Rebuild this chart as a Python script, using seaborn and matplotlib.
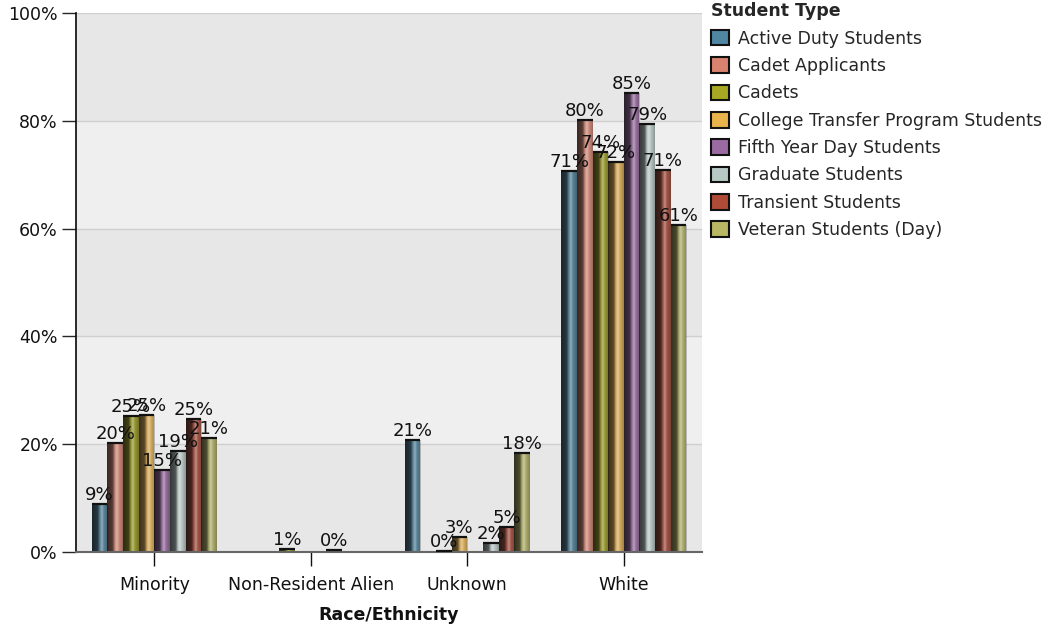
import numpy as np
import pandas as pd
import matplotlib
matplotlib.use("Agg")
import matplotlib.pyplot as plt
import seaborn as sns
from matplotlib.patches import Patch

categories = ["Minority", "Non-Resident Alien", "Unknown", "White"]
student_types = ["Active Duty Students", "Cadet Applicants", "Cadets",
                 "College Transfer Program Students", "Fifth Year Day Students",
                 "Graduate Students", "Transient Students", "Veteran Students (Day)"]

active_duty = [8.9, np.nan, 20.8, 70.7]
cadet_applicants = [20.2, np.nan, np.nan, 80.1]
cadets = [25.2, 0.6, 0.2, 74.2]
college_transfer = [25.4, np.nan, 2.8, 72.4]
fifth_year = [15.2, np.nan, np.nan, 85.2]
graduate = [18.7, 0.4, 1.7, 79.4]
transient = [24.7, np.nan, 4.6, 70.9]
veteran = [21.1, np.nan, 18.4, 60.6]

series = [active_duty, cadet_applicants, cadets, college_transfer,
          fifth_year, graduate, transient, veteran]

colors = ["#4f87a3", "#d9826f", "#a9a823", "#e8b24c",
          "#9b6aa3", "#b7c9c5", "#b04b38", "#b9b763"]

rows = []
for st, vals in zip(student_types, series):
    for cat, v in zip(categories, vals):
        rows.append({"Race/Ethnicity": cat, "Student Type": st, "Percent": v})
df = pd.DataFrame(rows)

sns.set_theme(style="white")
plt.rcParams['font.family'] = ['DejaVu Sans']

fig = plt.figure(figsize=(10.51, 6.27), dpi=100)
ax = fig.add_axes([0.0723, 0.1196, 0.5957, 0.8597])

# background bands
band_cols = ["#e7e7e7", "#efefef"]
for i, lo in enumerate(range(0, 100, 20)):
    ax.axhspan(lo, lo + 20, color=band_cols[i % 2], zorder=0, lw=0)
for y in range(20, 101, 20):
    ax.axhline(y, color="#cfcfcf", lw=1, zorder=0.5)

sns.barplot(data=df, x="Race/Ethnicity", y="Percent", hue="Student Type",
            hue_order=student_types, order=categories, palette=colors,
            errorbar=None, width=0.8, dodge=True, ax=ax, legend=False,
            edgecolor="none", linewidth=0, zorder=2)

# shading overlay to mimic the glossy 3D look
grad_x = np.linspace(0, 1, 64)
alpha = np.interp(grad_x, [0, 0.35, 0.5, 0.65, 0.85, 1.0],
                  [0.72, 0.58, 0.05, 0.0, 0.1, 0.25])
white = np.interp(grad_x, [0, 0.5, 0.62, 0.75, 1.0], [0, 0, 0.35, 0.0, 0])
rgba = np.zeros((1, 64, 4))
for k in range(64):
    if white[k] > 0:
        rgba[0, k] = [1, 1, 1, white[k]]
    else:
        rgba[0, k] = [0, 0, 0, alpha[k]]

for container in ax.containers:
    for p in container.patches:
        h = p.get_height()
        if not np.isfinite(h) or h <= 0:
            continue
        x0 = p.get_x(); w = p.get_width()
        im = ax.imshow(rgba, extent=[x0, x0 + w, 0, h], aspect="auto",
                       zorder=2.5, interpolation="bilinear")
        im.set_clip_path(p)
        ax.plot([x0, x0 + w], [h, h], color="#111111", lw=1.6, zorder=3,
                solid_capstyle="butt")

for container in ax.containers:
    labels = []
    for p in container.patches:
        h = p.get_height()
        labels.append(f"{h:.0f}%" if np.isfinite(h) else "")
    ax.bar_label(container, labels=labels, padding=0, fontsize=13,
                 color="#111111", zorder=4)

ax.set_xlim(-0.5, 3.5)
ax.set_ylim(0, 100)
ax.set_yticks(range(0, 101, 20))
ax.set_yticklabels([f"{v}%" for v in range(0, 101, 20)], fontsize=12.5, color="#111111")
ax.tick_params(axis="x", labelsize=12.5, colors="#111111", length=10, width=1,
               direction="out", bottom=True, pad=7)
ax.tick_params(axis="y", length=10, width=1, direction="out", left=True, pad=3)
ax.set_xlabel("Race/Ethnicity", fontsize=12.5, fontweight="bold", color="#111111",
              labelpad=9)
ax.set_ylabel("")
for s in ["top", "right"]:
    ax.spines[s].set_visible(False)
ax.spines["left"].set_color("#111111")
ax.spines["bottom"].set_color("#666666")
ax.spines["bottom"].set_linewidth(1.5)
ax.grid(False)

handles = [Patch(facecolor=c, edgecolor="#111111", linewidth=1.5, label=l)
           for c, l in zip(colors, student_types)]
leg = ax.legend(handles=handles, title="Student Type", loc="upper left",
                bbox_to_anchor=(1.015, 1.02), frameon=False, fontsize=12.5,
                title_fontproperties={"weight": "bold", "size": 12.5},
                handlelength=1.0, handleheight=1.0, handletextpad=0.55,
                labelspacing=0.54, borderaxespad=0, borderpad=0)
leg._legend_box.align = "left"

fig.savefig("out.png", dpi=100)
